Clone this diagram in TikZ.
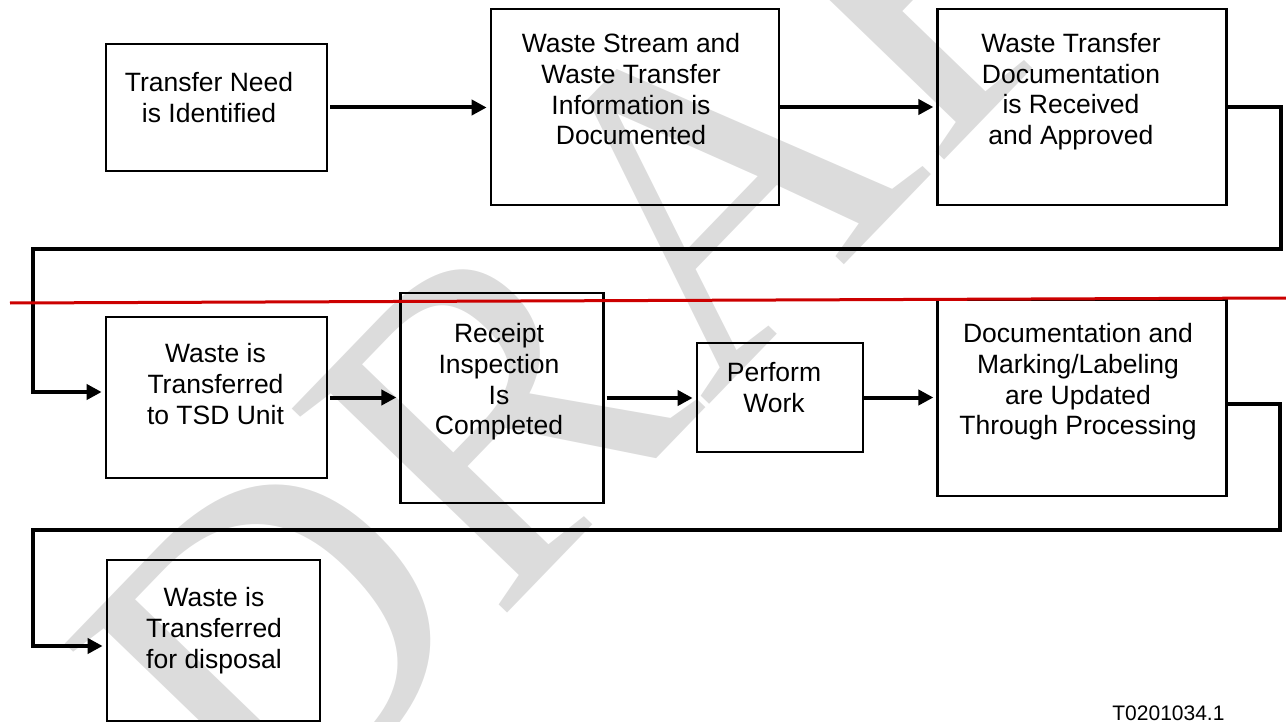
\documentclass[tikz,border=0pt]{standalone}
\usepackage{fontspec}
\setmainfont{Liberation Sans}
\newfontfamily\wmfont{Liberation Serif}
\usetikzlibrary{arrows.meta,calc}
\definecolor{wmgray}{RGB}{220,220,220}
\definecolor{redline}{RGB}{204,0,0}
\begin{document}
\begin{tikzpicture}[x=0.5pt,y=-0.5pt,
  box/.style={draw, line width=1.35pt, rectangle, inner sep=0pt},
  txt/.style={font=\fontsize{13.25}{15.35}\selectfont, align=center, anchor=north, inner sep=0pt},
  arr/.style={line width=2pt, -{Triangle[length=7.5pt,width=7.5pt]}, shorten >=1.5pt},
  wmark/.style={anchor=base west, inner sep=0pt, text=wmgray, font=\wmfont\fontsize{226.5}{226.5}\selectfont}]
\useasboundingbox (0,0) rectangle (1286,722);
\begin{scope}
  \clip (0,0) rectangle (1286,722);
  \node[wmark, rotate=46] (wm) at (269,860) {DRAFT};
\end{scope}
% boxes
\node[box, minimum width=110.5pt, minimum height=63.5pt] (b1) at (216.5,107.5) {};
\node[box, minimum width=144pt, minimum height=98pt] (b2) at (635,107) {};
\node[box, minimum width=144.25pt, minimum height=98pt] (b3) at (1082,107) {};
\node[box, minimum width=110.5pt, minimum height=80.5pt] (b4) at (216.5,397.5) {};
\node[box, minimum width=101.25pt, minimum height=105pt] (b5) at (502,398) {};
\node[box, minimum width=83pt, minimum height=54.5pt] (b6) at (780,397.5) {};
\node[box, minimum width=144.25pt, minimum height=98pt] (b7) at (1082,398) {};
\node[box, minimum width=106.5pt, minimum height=80.5pt] (b8) at (213.5,640.5) {};
% texts
\node[txt] (t1) at (209,72) {Transfer Need\\is Identified};
\node[txt] (t2) at (631,33) {Waste Stream and\\Waste Transfer\\Information is\\Documented};
\node[txt] (t3) at (1071,33) {Waste Transfer\\Documentation\\is Received\\and Approved};
\node[txt] (t4) at (215.5,343) {Waste is\\Transferred\\to TSD Unit};
\node[txt] (t5) at (499,323) {Receipt\\Inspection\\Is\\Completed};
\node[txt] (t6) at (774,362) {Perform\\Work};
\node[txt] (t7) at (1078,323) {Documentation and\\Marking/Labeling\\are Updated\\Through Processing};
\node[txt] (t8) at (214,587) {Waste is\\Transferred\\for disposal};
\node[font=\fontsize{10.5}{12}\selectfont, anchor=base west, inner sep=0pt] (tag) at (1112,720) {T0201034.1};
% straight arrows
\draw[arr, shorten <=1pt] (b1.east) -- (b1.east -| b2.west);
\draw[arr] (b2.east) -- (b2.east -| b3.west);
\draw[arr, shorten <=1pt] (b4.east) -- (b4.east -| b5.west);
\draw[arr, shorten <=1pt] (b5.east) -- (b5.east -| b6.west);
\draw[arr] (b6.east) -- (b6.east -| b7.west);
% routed connectors
\coordinate (k3) at (1281,249);
\coordinate (k4) at (33,392);
\draw[arr] (b3.east) -| (k3) -| (k4) -- (k4 -| b4.west);
\coordinate (k1) at (1280,530);
\coordinate (k2) at (33,646);
\draw[arr] ($(b7.east)+(0,6)$) -| (k1) -| (k2) -- (k2 -| b8.west);
% red separator
\coordinate (rl) at (10,303);
\coordinate (rr) at (1286,298);
\draw[redline, line width=1.5pt] (rl) -- (rr);
\end{tikzpicture}
\end{document}
